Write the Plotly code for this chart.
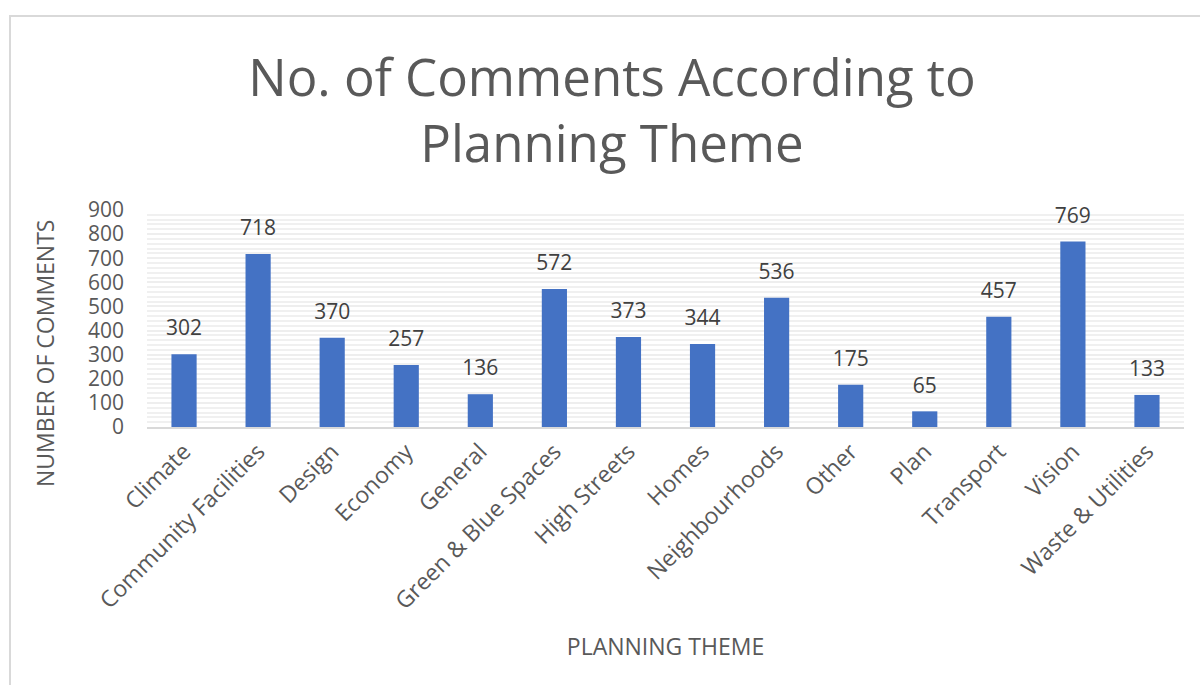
import plotly.graph_objects as go

themes = ["Climate", "Community Facilities", "Design", "Economy", "General",
          "Green & Blue Spaces", "High Streets", "Homes", "Neighbourhoods",
          "Other", "Plan", "Transport", "Vision", "Waste & Utilities"]
comments = [302, 718, 370, 257, 136, 572, 373, 344, 536, 175, 65, 457, 769, 133]

FONT = "Open Sans"
GREY = "#595959"

fig = go.Figure()
fig.add_trace(go.Bar(
    x=themes, y=comments,
    marker=dict(color="#4472C4", line=dict(width=0)),
    hoverinfo="x+y",
))
# value labels above each bar (invisible markers add spacing above the bar top)
fig.add_trace(go.Scatter(
    x=themes, y=comments, mode="markers+text",
    marker=dict(size=20, color="rgba(0,0,0,0)"),
    text=[str(v) for v in comments], textposition="top center",
    textfont=dict(family=FONT, size=21, color="#404040"),
    cliponaxis=False, hoverinfo="skip",
))

L, R, T, B = 147, 16, 210, 258
W, H = 1200, 685
pw, ph = W - L - R, H - T - B

fig.update_layout(
    width=W, height=H,
    margin=dict(l=L, r=R, t=T, b=B),
    paper_bgcolor="white", plot_bgcolor="white",
    bargap=0.66,
    showlegend=False,
    title=dict(text="No. of Comments According to<br>Planning Theme",
               x=0.51, xanchor="center", y=0.86, yanchor="middle",
               font=dict(family=FONT, size=51, color=GREY)),
    xaxis=dict(
        title=dict(text="PLANNING THEME", font=dict(family=FONT, size=23, color=GREY),
                   standoff=24),
        range=[-0.5, len(themes) - 0.5],
        tickangle=-45, tickfont=dict(family=FONT, size=23, color=GREY),
        showline=True, linecolor="#d9d9d9", linewidth=2,
        showgrid=False, ticks="",
    ),
    yaxis=dict(
        range=[0, 900], dtick=100,
        tickfont=dict(family=FONT, size=21, color=GREY),
        ticklabelstandoff=22,
        showgrid=True, gridcolor="#eeeeee", gridwidth=2,
        minor=dict(dtick=20, showgrid=True, gridcolor="#f0f0f0", gridwidth=2),
        zeroline=False, ticks="",
    ),
)

# vertical axis title
fig.add_annotation(text="NUMBER OF COMMENTS", textangle=-90,
                   xref="paper", yref="paper",
                   x=(45 - L) / pw, y=((H - B) - 354) / ph,
                   xanchor="center", yanchor="middle", showarrow=False,
                   font=dict(family=FONT, size=23, color=GREY))

# outer chart frame
fig.add_shape(type="rect", xref="paper", yref="paper",
              x0=(10 - L) / pw, x1=(W + 10 - L) / pw,
              y0=-(H + 10 - (H - B)) / ph, y1=((H - B) - 16) / ph,
              line=dict(color="#d9d9d9", width=2), fillcolor="rgba(0,0,0,0)",
              layer="below")

fig.write_html("out.html")
